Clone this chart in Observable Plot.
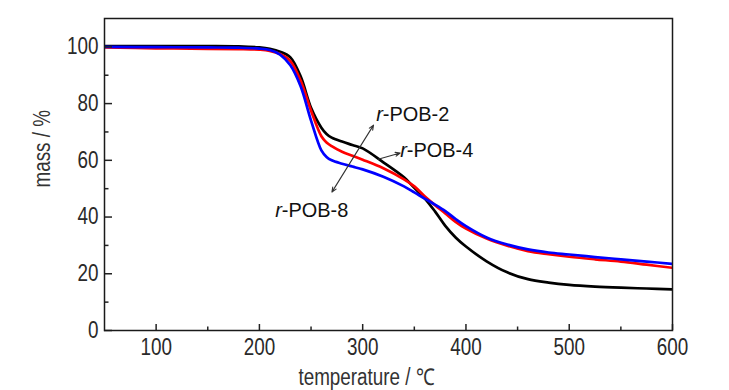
<!DOCTYPE html>
<html><head><meta charset="utf-8">
<script src="https://cdn.jsdelivr.net/npm/d3@7"></script>
<script src="https://cdn.jsdelivr.net/npm/@observablehq/plot@0.6"></script>
<style>
html,body{margin:0;padding:0;background:#fff;}
</style></head><body><div id="chart"></div>
<script>
// ---- data ----
const temperature = [50,100,150,180,200,210,220,230,240,250,260,265,270,280,290,300,320,340,350,360,370,380,390,400,420,440,460,480,500,525,550,575,600];
const massPOB2 = [100.3,100.3,100.3,100.2,99.8,99.3,98.3,96.3,89.5,78.5,71.5,69.3,68,66.6,65.4,64.2,59.3,54,50.3,46.6,42.0,36.9,32.8,29.6,24.4,20.5,18.1,16.9,16.1,15.5,15.1,14.8,14.5];
const massPOB4 = [99.8,99.5,99.3,99.2,99,98.6,97.5,95,88,77.5,68.5,66.3,65,63,61.6,60.2,57.2,53.3,50.8,47.3,44.2,41.3,38.3,35.9,32.4,29.9,28,26.9,26,25.1,24.3,23.2,22.1];
const massPOB8 = [100,99.9,99.8,99.7,99.4,98.9,97.3,93.5,86,74,63.5,61.2,60,58.8,57.8,56.8,54.2,50.8,48.7,46.5,44.4,42.1,39.3,36.8,32.8,30.3,28.6,27.5,26.8,25.9,25.1,24.3,23.5];
const seriesNames = ["r-POB-2","r-POB-4","r-POB-8"];
const seriesColors = ["#000000","#ff0000","#0000ff"];
const xMajorTicks = [100,200,300,400,500,600];
const xMinorTicks = [150,250,350,450,550];
const yMajorTicks = [0,20,40,60,80,100];
const yMinorTicks = [10,30,50,70,90];
const xTitle = "temperature / ℃";
const yTitle = "mass / %";
// annotation labels (temperature, mass)
const labelNames = ["r-POB-2","r-POB-4","r-POB-8"];
const labelT = [313.1, 336.3, 215.3];
const labelMass = [73.9, 61.2, 40.0];
// arrows: x1,y1 -> x2,y2 in data units
const arrowX1 = [290.3, 290.3, 315.0];
const arrowY1 = [60.6, 60.6, 60.4];
const arrowX2 = [270.2, 310.5, 336.3];
const arrowY2 = [48.8, 72.4, 62.6];

// ---- build ----
const allMass = [massPOB2, massPOB4, massPOB8];
const rows = [];
seriesNames.forEach((name, i) => temperature.forEach((t, j) => rows.push({series: name, t, mass: allMass[i][j]})));
const labelIdx = labelNames.map((_, i) => i);
const arrowIdx = arrowX1.map((_, i) => i);

const sans = '"Liberation Sans",Arial,sans-serif';
const plot = Plot.plot({
  width: 729, height: 390,
  marginLeft: 104, marginRight: 57, marginTop: 18, marginBottom: 60,
  style: {fontFamily: sans, fontSize: "23px", color: "#222", background: "#fff"},
  x: {domain: [50, 600], label: null},
  y: {domain: [0, 110], label: null},
  color: {domain: seriesNames, range: seriesColors},
  marks: [
    Plot.line(rows, {x: "t", y: "mass", stroke: "series", z: "series", strokeWidth: 2.7, curve: "catmull-rom", clip: true}),
    Plot.axisX({ticks: xMajorTicks, tickSize: 0, tickPadding: 8, label: null, fontSize: 23, fill: "#2a2a2a"}),
    Plot.axisX({ticks: xMajorTicks, tickSize: -6, text: null, label: null, strokeWidth: 1.5}),
    Plot.axisX({ticks: xMinorTicks, tickSize: -3.5, text: null, label: null, strokeWidth: 1.5}),
    Plot.axisY({ticks: yMajorTicks, tickSize: 0, tickPadding: 6, label: null, fontSize: 23, fill: "#2a2a2a"}),
    Plot.axisY({ticks: yMajorTicks, tickSize: -8, text: null, label: null, strokeWidth: 1.5}),
    Plot.axisY({ticks: yMinorTicks, tickSize: -4.5, text: null, label: null, strokeWidth: 1.5}),
    Plot.frame({stroke: "#1a1a1a", strokeWidth: 1.5}),
    Plot.arrow(arrowIdx, {x1: i => arrowX1[i], y1: i => arrowY1[i], x2: i => arrowX2[i], y2: i => arrowY2[i], bend: 0, stroke: "#333", strokeWidth: 1.1, headLength: 7, headAngle: 45}),
    Plot.text(labelIdx, {x: i => labelT[i], y: i => labelMass[i], text: i => labelNames[i], textAnchor: "start", lineAnchor: "bottom", fontSize: 21, fill: "#111"}),
    Plot.text([xTitle], {text: d => d, frameAnchor: "bottom", dy: 54, dx: -22, lineAnchor: "bottom", fontSize: 23, fill: "#333"}),
    Plot.text([yTitle], {text: d => d, frameAnchor: "left", dx: -62, dy: 13, rotate: -90, lineAnchor: "middle", fontSize: 23, fill: "#333"})
  ]
});
// condensed look (narrow sans) + italic "r" prefix in the sample labels
d3.select(plot).selectAll("text").each(function() {
  const t = this.textContent;
  const isLabel = /^r-POB/.test(t);
  const sx = isLabel ? 0.95 : 0.82;
  let tr = this.getAttribute("transform");
  if (!tr) {
    const x = this.getAttribute("x") || 0, y = this.getAttribute("y") || 0;
    this.removeAttribute("x"); this.removeAttribute("y");
    tr = `translate(${x},${y})`;
  }
  this.setAttribute("transform", `${tr} scale(${sx},1)`);
  if (isLabel) {
    this.textContent = "";
    d3.select(this).append("tspan").attr("font-style", "italic").text("r");
    d3.select(this).append("tspan").text(t.slice(1));
  }
});
document.getElementById("chart").appendChild(plot);
</script>
</body></html>
